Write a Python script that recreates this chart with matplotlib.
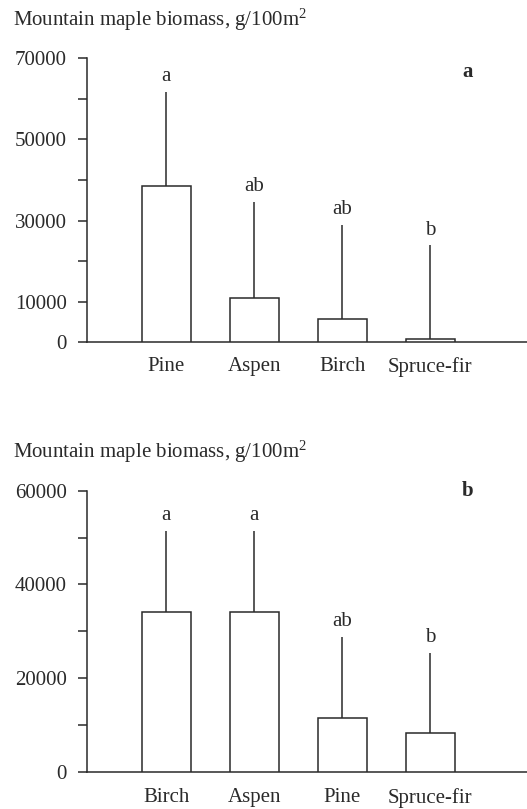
import numpy as np
import matplotlib
matplotlib.use("Agg")
import matplotlib.pyplot as plt

plt.rcParams["font.family"] = ["Liberation Serif", "DejaVu Serif"]
plt.rcParams["mathtext.fontset"] = "custom"
plt.rcParams["mathtext.rm"] = "Liberation Serif"
plt.rcParams["mathtext.it"] = "Liberation Serif:italic"

# ── data ──────────────────────────────────────────────────────────────
cats_a = ["Pine", "Aspen", "Birch", "Spruce-fir"]
mean_a = [38500, 10800, 5600, 700]
err_a = [23200, 23800, 23400, 23200]      # upper error only
letters_a = ["a", "ab", "ab", "b"]
ticks_a = [0, 10000, 20000, 30000, 40000, 50000, 60000, 70000]
ticklabels_a = ["0", "10000", "", "30000", "", "50000", "", "70000"]

cats_b = ["Birch", "Aspen", "Pine", "Spruce-fir"]
mean_b = [34200, 34200, 11500, 8300]
err_b = [17200, 17200, 17300, 17100]
letters_b = ["a", "a", "ab", "b"]
ticks_b = [0, 10000, 20000, 30000, 40000, 50000, 60000]
ticklabels_b = ["0", "", "20000", "", "40000", "", "60000"]

TITLE = r"Mountain maple biomass, g/100m$^{2}$"
INK = "#2a2a2a"
FS = 15

fig = plt.figure(figsize=(5.27, 8.09), dpi=100)
fig.patch.set_facecolor("white")

ax_a = fig.add_axes([0.165, 0.577, 0.835, 0.351])
ax_b = fig.add_axes([0.165, 0.046, 0.835, 0.3475])


def draw(ax, cats, means, errs, letters, ticks, ticklabels, tag, tag_y, xpad):
    x = np.arange(len(cats))
    ax.bar(x, means, width=0.557, color="white", edgecolor=INK,
           linewidth=1.1, zorder=3)
    ax.errorbar(x, means, yerr=[np.zeros(len(errs)), errs], fmt="none",
                ecolor=INK, elinewidth=1.1, capsize=0, zorder=2)
    for xi, m, e, lt in zip(x, means, errs, letters):
        ax.annotate(lt, xy=(xi, m + e), xytext=(0, 4),
                    textcoords="offset points", ha="center", va="bottom",
                    fontsize=FS, color=INK)
    ax.set_xlim(-0.9, 4.1)
    ax.set_ylim(0, ticks[-1])
    ax.set_xticks(x)
    ax.set_xticklabels(cats, fontsize=FS, color=INK)
    ax.tick_params(axis="x", length=0, pad=xpad)
    ax.set_yticks(ticks)
    ax.set_yticklabels(ticklabels, fontsize=FS, color=INK)
    ax.tick_params(axis="y", length=6.5, width=1.1, color=INK, pad=8)
    ax.spines[["top", "right"]].set_visible(False)
    for s in ["left", "bottom"]:
        ax.spines[s].set_color(INK)
        ax.spines[s].set_linewidth(1.1)
    ax.text(0.866, tag_y, tag, transform=ax.transAxes, ha="center",
            va="center", fontsize=FS, fontweight="bold", color=INK)


draw(ax_a, cats_a, mean_a, err_a, letters_a, ticks_a, ticklabels_a, "a", 0.952, 11)
draw(ax_b, cats_b, mean_b, err_b, letters_b, ticks_b, ticklabels_b, "b", 1.0, 12)

fig.text(0.025, 0.975, TITLE, ha="left", va="center", fontsize=FS, color=INK)
fig.text(0.025, 0.4417, TITLE, ha="left", va="center", fontsize=FS, color=INK)

plt.savefig("out.png", dpi=100, facecolor="white")
